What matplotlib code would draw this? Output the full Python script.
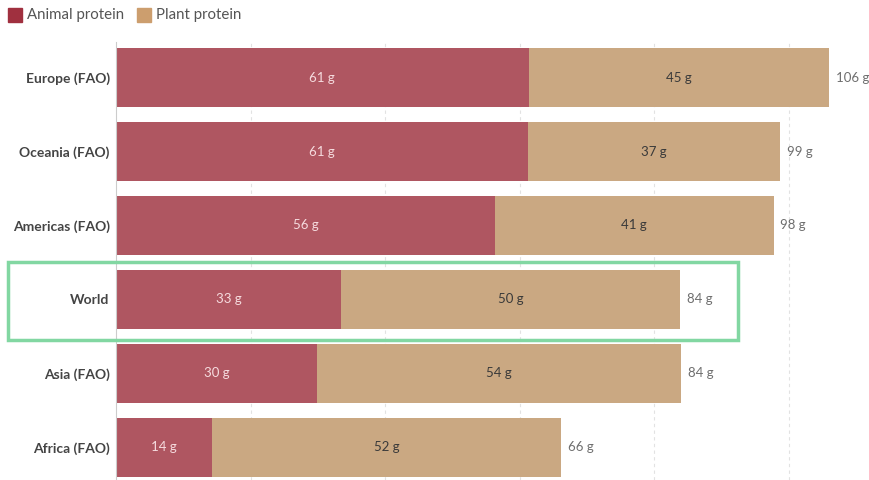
import matplotlib
matplotlib.use("Agg")
import matplotlib.pyplot as plt
from matplotlib.patches import Rectangle

regions = ["Europe (FAO)", "Oceania (FAO)", "Americas (FAO)", "World", "Asia (FAO)", "Africa (FAO)"]
animal = [61.3, 61.2, 56.3, 33.4, 29.9, 14.3]
plant = [44.7, 37.4, 41.4, 50.4, 54.1, 51.8]
series_names = ["Animal protein", "Plant protein"]

plt.rcParams['font.family'] = ['Lato', 'DejaVu Sans']

W, H = 870, 480
fig = plt.figure(figsize=(W / 100, H / 100), dpi=100)
ax_left, ax_top, ax_bottom = 116, 42, 480
ax = fig.add_axes([ax_left / W, 0, (W - ax_left) / W, (ax_bottom - ax_top) / H])

c_animal = "#AF5661"
c_plant = "#CAA882"
ypos = list(range(len(regions)))
ax.barh(ypos, animal, height=0.8, color=c_animal, zorder=2)
ax.barh(ypos, plant, left=animal, height=0.8, color=c_plant, zorder=2)

for i in ypos:
    a, p = animal[i], plant[i]
    ax.text(a / 2, i, f"{round(a)} g", ha="center", va="center", fontsize=9.5, color="#F6DCDF", zorder=3)
    ax.text(a + p / 2, i, f"{round(p)} g", ha="center", va="center", fontsize=9.5, color="#3A3A3A", zorder=3)
    ax.annotate(f"{round(a + p)} g", (a + p, i), xytext=(5, 0), textcoords="offset points",
                ha="left", va="center", fontsize=9.5, color="#6E6E6E")

ax.set_xlim(0, (W - ax_left) / 6.73)
ax.set_ylim(5.44, -0.48)
ax.set_xticks([20, 40, 60, 80, 100])
ax.set_yticks(ypos)
ax.set_yticklabels(regions, fontsize=10, color="#444444", fontweight="bold")
ax.tick_params(axis="y", length=0, pad=4.5)
ax.tick_params(axis="x", length=0, labelbottom=False)
ax.grid(axis="x", color="#E2E2E2", linestyle=(0, (3, 3)), linewidth=0.8, zorder=0)
for s in ["top", "right", "bottom"]:
    ax.spines[s].set_visible(False)
ax.spines["left"].set_color("#CCCCCC")
ax.spines["left"].set_linewidth(0.8)

# legend
sw = 14
for x0, col, name in [(8, "#A0303F", series_names[0]), (137, "#CC9E6E", series_names[1])]:
    fig.patches.append(Rectangle((x0 / W, 1 - 22 / H), sw / W, sw / H, transform=fig.transFigure,
                                 color=col, figure=fig))
    fig.text((x0 + sw + 5) / W, 1 - 15 / H, name, ha="left", va="center", fontsize=10.8, color="#555555")

# highlight box
fig.patches.append(Rectangle((8 / W, 1 - 340 / H), 730 / W, 78 / H, transform=fig.transFigure,
                             fill=False, edgecolor="#82D7A2", linewidth=2.5, figure=fig, zorder=5))

fig.savefig("out.png", dpi=100)
